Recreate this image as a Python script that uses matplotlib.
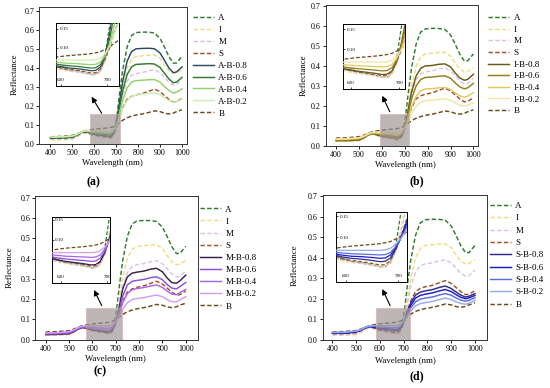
import matplotlib
matplotlib.use('Agg')
import matplotlib.pyplot as plt
from matplotlib.patches import Rectangle

plt.rcParams['font.family'] = ['Liberation Serif', 'DejaVu Serif']

# ---------------- data ----------------
wl = [400, 450, 500, 520, 540, 555, 570, 590, 610, 630, 650, 665, 675, 685, 695,
      705, 715, 730, 750, 770, 790, 820, 850, 875, 900, 920, 940, 960, 975, 1000]

A = [.030, .030, .033, .045, .060, .066, .062, .050, .043, .040, .035, .030, .030, .040, .080,
     .160, .260, .390, .510, .570, .585, .588, .587, .583, .555, .510, .460, .425, .425, .460]
I = [.022, .022, .025, .035, .052, .058, .055, .045, .040, .037, .033, .030, .030, .038, .065,
     .120, .190, .300, .400, .445, .460, .463, .467, .468, .450, .415, .385, .370, .372, .390]
M = [.025, .025, .028, .038, .052, .058, .056, .047, .042, .038, .034, .031, .032, .040, .065,
     .110, .170, .260, .330, .360, .370, .375, .385, .390, .375, .350, .325, .310, .312, .340]
S = [.030, .030, .035, .045, .058, .062, .060, .050, .045, .042, .038, .034, .035, .045, .070,
     .100, .140, .190, .235, .250, .258, .265, .278, .288, .275, .255, .235, .220, .222, .240]
B = [.038, .040, .045, .052, .062, .068, .072, .076, .079, .081, .083, .085, .087, .090, .096,
     .103, .112, .125, .138, .146, .152, .158, .166, .174, .170, .162, .158, .162, .170, .180]

AB08 = [.032, .032, .035, .046, .060, .066, .063, .053, .048, .046, .043, .040, .041, .050, .080,
        .140, .220, .330, .435, .485, .500, .502, .503, .500, .478, .440, .400, .375, .378, .405]
AB06 = [.033, .034, .037, .047, .061, .067, .065, .057, .054, .052, .049, .047, .048, .056, .080,
        .125, .190, .280, .365, .405, .418, .420, .422, .420, .402, .372, .342, .322, .325, .350]
AB04 = [.035, .036, .040, .049, .062, .068, .067, .062, .060, .059, .057, .056, .057, .063, .080,
        .112, .160, .230, .295, .325, .333, .335, .338, .338, .325, .302, .282, .268, .272, .290]
AB02 = [.037, .038, .042, .050, .063, .068, .069, .068, .068, .068, .068, .068, .069, .073, .085,
        .105, .138, .185, .228, .250, .258, .262, .266, .268, .260, .243, .228, .218, .222, .236]

IB08 = [.025, .025, .028, .038, .053, .060, .058, .050, .046, .043, .040, .037, .038, .046, .070,
        .118, .180, .270, .350, .388, .400, .402, .408, .410, .395, .365, .340, .328, .332, .358]
IB06 = [.028, .028, .032, .041, .055, .062, .061, .055, .052, .050, .048, .046, .047, .054, .073,
        .110, .160, .235, .300, .332, .342, .344, .348, .350, .338, .315, .295, .285, .290, .312]
IB04 = [.031, .032, .036, .044, .057, .064, .064, .061, .059, .058, .057, .056, .057, .062, .077,
        .103, .140, .195, .248, .275, .284, .286, .290, .292, .282, .265, .250, .243, .248, .265]
IB02 = [.034, .036, .040, .048, .060, .066, .068, .068, .068, .068, .068, .068, .069, .073, .083,
        .100, .122, .160, .198, .218, .226, .228, .232, .235, .228, .215, .203, .198, .203, .215]

MB08 = [.025, .026, .029, .039, .053, .059, .058, .050, .046, .043, .040, .037, .038, .046, .068,
        .105, .160, .250, .310, .328, .333, .338, .348, .352, .335, .305, .282, .278, .290, .318]
MB06 = [.028, .029, .033, .042, .055, .061, .061, .055, .052, .050, .048, .046, .047, .054, .072,
        .100, .145, .215, .270, .288, .292, .297, .306, .310, .296, .272, .255, .250, .262, .282]
MB04 = [.031, .032, .036, .045, .058, .064, .064, .061, .059, .058, .057, .056, .057, .062, .076,
        .098, .130, .182, .228, .246, .252, .257, .265, .270, .258, .240, .225, .222, .232, .248]
MB02 = [.034, .035, .040, .048, .060, .066, .068, .068, .068, .068, .068, .068, .069, .073, .082,
        .097, .118, .150, .182, .198, .203, .207, .215, .220, .212, .198, .188, .186, .196, .212]

SB08 = [.031, .031, .037, .046, .058, .063, .062, .054, .050, .048, .045, .042, .043, .051, .072,
        .100, .135, .180, .218, .232, .238, .244, .255, .262, .250, .233, .218, .208, .212, .225]
SB06 = [.032, .033, .039, .047, .059, .064, .064, .058, .055, .054, .052, .050, .051, .058, .075,
        .098, .128, .168, .203, .216, .222, .228, .238, .245, .235, .220, .207, .200, .204, .216]
SB04 = [.034, .035, .041, .049, .060, .065, .066, .063, .061, .060, .059, .058, .059, .064, .078,
        .097, .122, .155, .185, .198, .203, .208, .218, .225, .217, .204, .193, .188, .192, .205]
SB02 = [.036, .037, .043, .050, .062, .067, .069, .069, .069, .069, .069, .069, .070, .074, .084,
        .098, .116, .140, .165, .176, .181, .186, .196, .203, .196, .185, .177, .173, .178, .192]

base_names = ['A', 'I', 'M', 'S']
base_vals = [A, I, M, S]
base_colors = ['#2f7a2f', '#f0dc82', '#dcc2e6', '#a3502c']
b_color = '#6b4a1c'
levels = ['0.8', '0.6', '0.4', '0.2']

mix_sets = {
    'A': ([AB08, AB06, AB04, AB02], ['#2c4a66', '#2e7d2e', '#8fd16a', '#cdeeb0']),
    'I': ([IB08, IB06, IB04, IB02], ['#6b5a14', '#8f7f1e', '#e2c95e', '#f3e4a6']),
    'M': ([MB08, MB06, MB04, MB02], ['#3a1f4d', '#8a4fe0', '#ab66ee', '#d59cf2']),
    'S': ([SB08, SB06, SB04, SB02], ['#2c2c8c', '#1c1ccf', '#5b6ce0', '#98acea']),
}

# ---------------- layout (pixels) ----------------
W, H = 550, 388
fig = plt.figure(figsize=(5.5, 3.88), dpi=100)


def prect(l, t, r, b):
    return [l / W, 1 - b / H, (r - l) / W, (b - t) / H]


panels = [
    dict(key='A', tag='a', frame=(39, 7.3, 187, 144), xlim=(348, 1023), ylim=(0, 0.718),
         inset=(56, 22.7, 119, 86), ixlim=(589, 725), iylim=(0, 0.166),
         box=(580, 717, 0.156), head=(588, 0.248), tail=(634, 0.161),
         leg=(193, 20.7, 14.0), xl=(112, 163), yl=(15, 74), tagpos=(93, 182)),
    dict(key='I', tag='b', frame=(325.7, 5, 478, 145.7), xlim=(355, 1020), ylim=(0, 0.705),
         inset=(343.3, 24.3, 405, 89.3), ixlim=(584, 712), iylim=(0, 0.1625),
         box=(590, 720, 0.157), head=(602, 0.25), tail=(635, 0.17),
         leg=(488.3, 20.7, 13.7), xl=(405.8, 165), yl=(303.3, 75), tagpos=(416.7, 181)),
    dict(key='M', tag='c', frame=(35, 195.7, 198.3, 339.7), xlim=(354, 1054), ylim=(0, 0.71),
         inset=(51.7, 216.7, 110, 283.3), ixlim=(580, 706), iylim=(-0.009, 0.158),
         box=(573, 726, 0.155), head=(607, 0.245), tail=(640, 0.168),
         leg=(200, 212.3, 14.2), xl=(115.8, 359), yl=(9.3, 267), tagpos=(100, 371)),
    dict(key='S', tag='d', frame=(322.7, 195, 487.3, 339.7), xlim=(359, 1052), ylim=(0, 0.706),
         inset=(336, 212.3, 406.7, 282.3), ixlim=(581, 716), iylim=(-0.007, 0.1595),
         box=(584, 727, 0.153), head=(610, 0.247), tail=(643, 0.166),
         leg=(490, 209, 14.4), xl=(405, 360.7), yl=(295, 265), tagpos=(417, 376)),
]

DASH = (3.0, 1.6)


def draw_lines(ax, key, lw):
    handles = []
    for name, vals, col in zip(base_names, base_vals, base_colors):
        h, = ax.plot(wl, vals, color=col, lw=lw, ls=(0, DASH), label=name, zorder=2)
        handles.append(h)
    mixes, mcols = mix_sets[key]
    for lev, vals, col in zip(levels, mixes, mcols):
        h, = ax.plot(wl, vals, color=col, lw=lw, label=f'{key}-B-{lev}', zorder=3)
        handles.append(h)
    h, = ax.plot(wl, B, color=b_color, lw=lw, ls=(0, DASH), label='B', zorder=2)
    handles.append(h)
    return handles


for p in panels:
    l, t, r, b = p['frame']
    ax = fig.add_axes(prect(l, t, r, b))
    handles = draw_lines(ax, p['key'], 1.05)
    ax.set_xlim(*p['xlim'])
    ax.set_ylim(*p['ylim'])
    ax.set_xticks([400, 500, 600, 700, 800, 900, 1000])
    ax.set_yticks([0.0, 0.1, 0.2, 0.3, 0.4, 0.5, 0.6, 0.7])
    ax.set_yticklabels([f'{v:.1f}' for v in [0.0, 0.1, 0.2, 0.3, 0.4, 0.5, 0.6, 0.7]])
    ax.tick_params(labelsize=5.8, length=2, width=0.6, pad=1.5, direction='out')
    for s in ax.spines.values():
        s.set_linewidth(0.7)
        s.set_color('#333333')
    ax.set_xlabel('Wavelength (nm)', fontsize=6.3, va='center')
    ax.set_ylabel('Reflectance', fontsize=6.3, va='center')
    xlx, xly = p['xl']
    ax.xaxis.set_label_coords((xlx - l) / (r - l), (b - xly) / (b - t))
    ylx, yly = p['yl']
    ax.yaxis.set_label_coords((ylx - l) / (r - l), (b - yly) / (b - t))

    x0, x1, hh = p['box']
    ax.add_patch(Rectangle((x0, 0), x1 - x0, hh, facecolor='#9c9494', edgecolor='#d8a8a8',
                           lw=0.6, alpha=0.68, zorder=4))
    ax.annotate('', xy=p['head'], xytext=p['tail'],
                arrowprops=dict(arrowstyle='-|>', color='black', lw=0.8, mutation_scale=8,
                                shrinkA=0, shrinkB=0),
                zorder=6)

    lx, ly0, dy = p['leg']
    fs = 6.5
    ax.legend(handles=handles, loc='upper left',
              bbox_to_anchor=(lx / W, 1 - (ly0 - dy / 2) / H),
              bbox_transform=fig.transFigure, frameon=False, fontsize=fs,
              borderpad=0, borderaxespad=0, handlelength=2.3, handletextpad=0.5,
              labelspacing=(dy / 1.389 - fs * 1.15) / fs)

    tx, ty = p['tagpos']
    fig.text(tx / W, 1 - ty / H, f'({p["tag"]})', ha='center', va='center', fontsize=8.5,
             fontweight='bold')

    # inset
    il, it, ir, ib = p['inset']
    ins = fig.add_axes(prect(il, it, ir, ib))
    draw_lines(ins, p['key'], 0.9)
    ins.set_xlim(*p['ixlim'])
    ins.set_ylim(*p['iylim'])
    ins.set_xticks([600, 700])
    ins.set_yticks([0.05, 0.10, 0.15])
    ins.set_yticklabels(['0.05', '0.10', '0.15'])
    ins.tick_params(axis='both', direction='in', labelsize=3.6, length=1.5, width=0.5)
    ins.tick_params(axis='y', pad=-2.5)
    ins.tick_params(axis='x', pad=-6)
    for lab in ins.get_yticklabels():
        lab.set_horizontalalignment('left')
    for s in ins.spines.values():
        s.set_linewidth(0.7)
    ins.set_zorder(5)

fig.savefig('out.png', dpi=100, facecolor='white')
